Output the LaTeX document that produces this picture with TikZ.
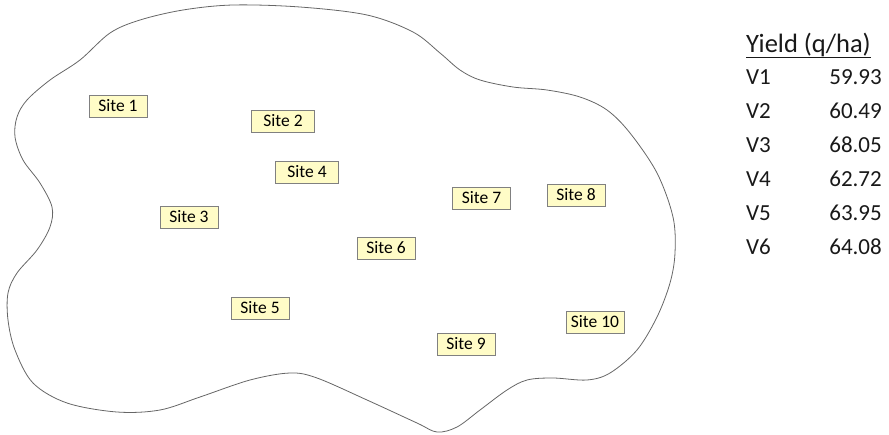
\documentclass[tikz,border=0pt]{standalone}
\usepackage{fontspec}
\setmainfont{Carlito}
\begin{document}
\begin{tikzpicture}[x=1pt,y=-1pt,
  site/.style={draw=black!50,fill=yellow!8!white!85!yellow,line width=0.9pt,inner xsep=3pt,inner ysep=0pt,
    minimum width=58pt,minimum height=22pt,font=\fontsize{17.5}{19}\selectfont,text=black},
  field/.style={draw=black!60,line width=0.8pt},
  ytext/.style={font=\fontsize{23}{26}\selectfont,text=black!90,inner sep=0pt}]
\useasboundingbox (0,0) rectangle (889,434);
\draw[field] plot[smooth cycle,tension=0.55] coordinates {
 (8,320) (8,293) (17,273) (37,250) (50,227) (52,207) (40,183) (23,160) (15,137) (17,117)
 (27,100) (50,80) (80,60) (110,33) (140,20) (183,10) (233,5) (300,7) (367,15) (413,32)
 (440,53) (460,70) (480,80) (513,87) (547,90) (580,97) (607,110) (630,133) (657,173)
 (673,217) (675,253) (670,283) (657,317) (637,350) (610,373) (587,380) (553,378) (527,380)
 (507,390) (480,410) (457,427) (437,432) (417,423) (367,400) (317,378) (290,373) (250,380)
 (200,397) (160,410) (117,412) (67,403) (33,383) (15,350)};
\node[site] (s1) at (118,106) {Site 1};
\node[site,minimum width=63pt] (s2) at (283,121) {Site 2};
\node[site] (s3) at (189,217) {Site 3};
\node[site,minimum width=63pt] (s4) at (307,172) {Site 4};
\node[site] (s5) at (260,308) {Site 5};
\node[site] (s6) at (386,248) {Site 6};
\node[site] (s7) at (481.5,198) {Site 7};
\node[site] (s8) at (576,195) {Site 8};
\node[site] (s9) at (466,344) {Site 9};
\node[site] (s10) at (595,322) {Site 10};
\node[ytext,font=\fontsize{26.5}{28}\selectfont,anchor=base west] (yh) at (746,52) {\underline{Yield (q/ha)}};
\foreach \i/\v/\yy in {1/59.93/84,2/60.49/118,3/68.05/152,4/62.72/186,5/63.95/220,6/64.08/254}{
  \node[ytext,anchor=base west] (v\i) at (746,\yy) {V\i};
  \node[ytext,anchor=base east] (n\i) at (882,\yy) {\v};
}
\end{tikzpicture}
\end{document}
